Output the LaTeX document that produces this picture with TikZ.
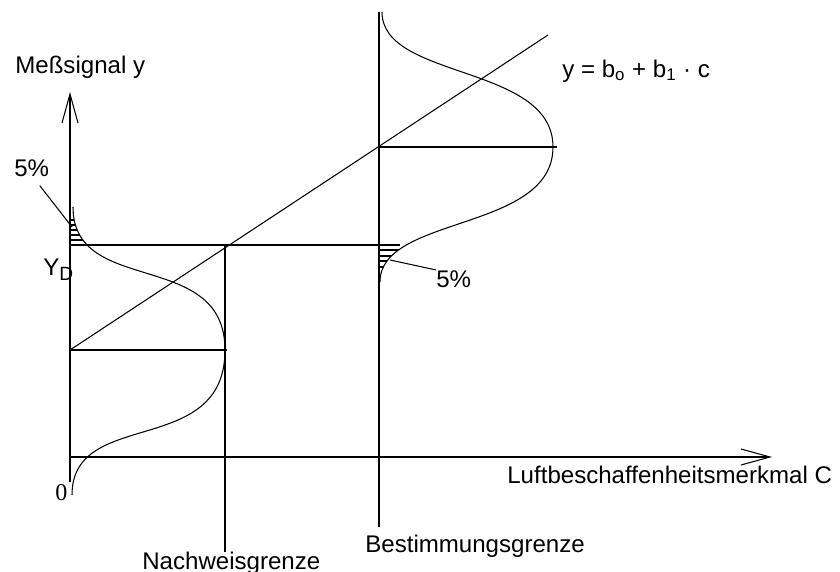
\documentclass[tikz,border=0pt]{standalone}
\usepackage{fontspec}
\setmainfont{Liberation Sans}
\newfontfamily\serifschrift{Liberation Serif}
\usetikzlibrary{arrows.meta}
\tikzset{
  achse/.style={line width=1.1pt, -{Straight Barb[length=5.8mm, width=3.2mm, line width=0.6pt]}},
  linie/.style={line width=1.1pt},
  duenn/.style={line width=0.6pt},
  schraffur/.style={line width=0.8pt},
  beschriftung/.style={inner sep=0pt, anchor=base west, font=\fontsize{13.7}{16}\selectfont},
}
\begin{document}
\begin{tikzpicture}[x=0.02cm, y=-0.02cm]
  \useasboundingbox (0,0) rectangle (840,572);
  \draw[achse] (70,482) -- (70,92);
  \draw[achse] (70,457) -- (772,457);
  \draw[linie] (70,245) -- (400,245);
  \draw[linie] (70,350) -- (227,350);
  \draw[linie] (379,147) -- (557,147);
  \draw[linie] (225,245) -- (225,552);
  \draw[linie] (379,12) -- (379,527);
  \draw[duenn] (70,350) -- (548,35);
  \draw[duenn] (73,207) .. controls (73,297) and (225,248) .. (225,350)
               .. controls (225,459) and (72,407) .. (72,495);
  \draw[duenn] (382,12) .. controls (382,80) and (553,64) .. (553,147)
               .. controls (553,232) and (380,215) .. (380,282);
  \begin{scope}
    \clip (70,200) -- (73,207) .. controls (73,297) and (225,248) .. (225,350) -- (70,350) -- cycle;
    \foreach \y in {220,225,...,240} \draw[schraffur] (70,\y) -- (130,\y);
  \end{scope}
  \begin{scope}
    \clip (380,282) .. controls (380,215) and (553,232) .. (553,147) -- (379,147) -- (379,282) -- cycle;
    \foreach \y in {250,256,261,267} \draw[schraffur] (379,\y) -- (440,\y);
  \end{scope}
  \node[beschriftung] (ylabel) at (15,73) {Meßsignal y};
  \node[beschriftung] (fuenfa) at (14,176) {5\%};
  \node[beschriftung] (yd) at (43,275) {Y\raisebox{-0.1cm}{\fontsize{10.9}{11}\selectfont D}};
  \node[beschriftung, font=\serifschrift\fontsize{13.7}{16}\selectfont] (null) at (55,500) {0};
  \node[beschriftung] (formel) at (562,77) {y = b\textsubscript{o} + b\textsubscript{1} · c};
  \node[beschriftung] (fuenfb) at (436,287) {5\%};
  \node[beschriftung] (xlabel) at (507,483) {Luftbeschaffenheitsmerkmal C};
  \node[beschriftung] (bg) at (365,552) {Bestimmungsgrenze};
  \node[beschriftung] (nwg) at (142,569) {Nachweisgrenze};
  \coordinate (spitzea) at (72,227);
  \coordinate (spitzeb) at (390,260);
  \draw[duenn] ([shift={(8,9)}]fuenfa.south) -- (spitzea);
  \draw[duenn] (spitzeb) -- (fuenfb.north west);
\end{tikzpicture}
\end{document}
